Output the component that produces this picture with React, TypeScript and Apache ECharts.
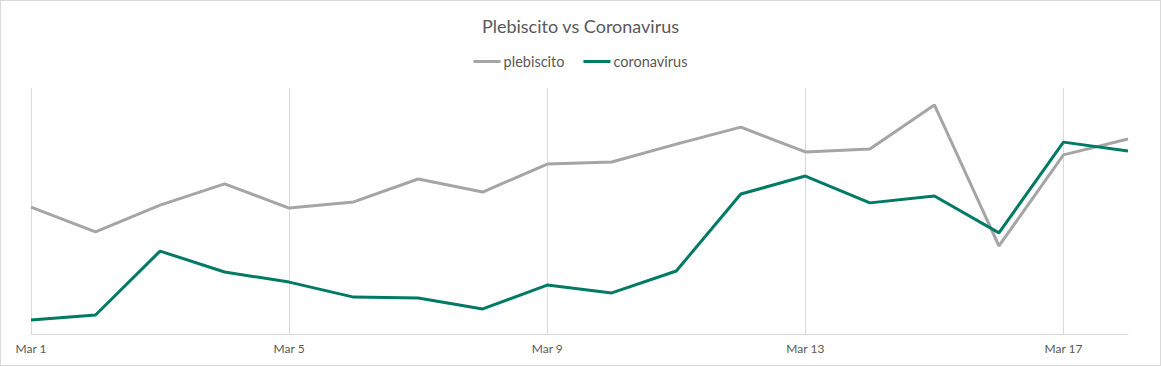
import React, { useEffect, useRef } from "react";
import * as echarts from "echarts";

const categories = [
  "Mar 1", "Mar 2", "Mar 3", "Mar 4", "Mar 5", "Mar 6", "Mar 7", "Mar 8", "Mar 9",
  "Mar 10", "Mar 11", "Mar 12", "Mar 13", "Mar 14", "Mar 15", "Mar 16", "Mar 17", "Mar 18",
];
const plebiscito = [51.6, 41.5, 52.4, 61.0, 51.2, 53.7, 63.0, 57.7, 69.1, 69.9, 77.2, 84.1, 74.0, 75.2, 93.1, 35.8, 72.8, 79.3];
const coronavirus = [5.7, 7.7, 33.7, 25.2, 21.1, 15.0, 14.6, 10.2, 19.9, 16.7, 25.6, 56.9, 64.2, 53.3, 56.1, 41.1, 78.0, 74.4];

const FONT = "Lato, 'Open Sans', sans-serif";

export default function App() {
  const ref = useRef<HTMLDivElement>(null);
  useEffect(() => {
    document.body.style.margin = "0";
    const chart = echarts.init(ref.current!, null, { renderer: "svg" });
    chart.setOption({
      animation: false,
      backgroundColor: "#ffffff",
      title: {
        text: "Plebiscito vs Coronavirus",
        left: "center",
        top: 12,
        textStyle: { fontFamily: FONT, fontSize: 18, fontWeight: "normal", color: "#595959" },
      },
      legend: {
        top: 49,
        left: "center",
        icon: "rect",
        itemWidth: 27,
        itemHeight: 3,
        itemGap: 19,
        textStyle: { fontFamily: FONT, fontSize: 14.5, color: "#595959", padding: [0, 0, 0, -2] },
        data: ["plebiscito", "coronavirus"],
      },
      grid: { left: 31, right: 33, top: 88, bottom: 32 },
      xAxis: {
        type: "category",
        data: categories,
        boundaryGap: false,
        axisLine: { lineStyle: { color: "#d9d9d9", width: 1 } },
        axisTick: { show: false },
        axisLabel: {
          interval: 3,
          color: "#595959",
          fontFamily: FONT,
          fontSize: 12,
          margin: 8,
        },
        splitLine: { show: true, interval: 3, lineStyle: { color: "#d9d9d9", width: 1 } },
      },
      yAxis: {
        type: "value",
        min: 0,
        max: 100,
        show: false,
        splitLine: { show: false },
      },
      series: [
        {
          name: "plebiscito",
          type: "line",
          data: plebiscito,
          symbol: "none",
          lineStyle: { color: "#a5a5a5", width: 3 },
          itemStyle: { color: "#a5a5a5" },
        },
        {
          name: "coronavirus",
          type: "line",
          data: coronavirus,
          symbol: "none",
          lineStyle: { color: "#007a64", width: 3 },
          itemStyle: { color: "#007a64" },
        },
      ],
    });
    return () => chart.dispose();
  }, []);
  return (
    <div style={{ position: "fixed", left: 0, top: 0, width: 1161, height: 366 }}>
      <div ref={ref} style={{ position: "absolute", left: 0, top: 0, width: 1161, height: 366 }} />
      <div
        style={{
          position: "absolute",
          left: 0,
          top: 0,
          width: 1161,
          height: 366,
          boxSizing: "border-box",
          border: "1px solid #d9d9d9",
          pointerEvents: "none",
        }}
      />
    </div>
  );
}
